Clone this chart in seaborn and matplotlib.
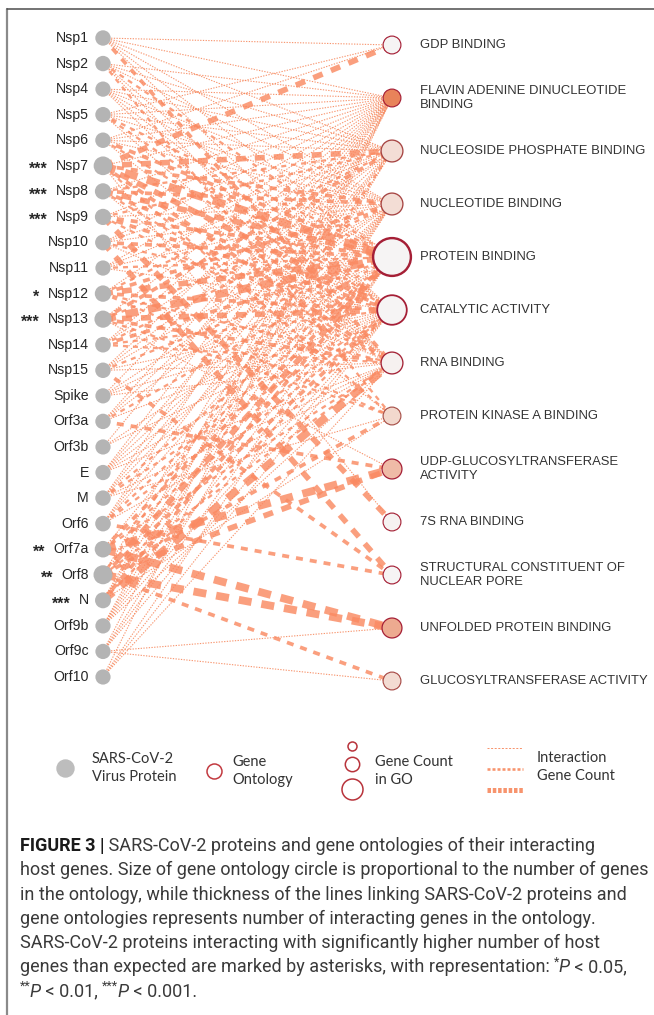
import matplotlib
matplotlib.use("Agg")
import matplotlib.pyplot as plt
from matplotlib.colors import LinearSegmentedColormap, to_hex
import numpy as np
import pandas as pd
import seaborn as sns

sns.set_style("white")
plt.rcParams["font.family"] = ["Liberation Sans", "DejaVu Sans"]
plt.rcParams["lines.scale_dashes"] = False

W, H = 654, 1015
PT = 72 / 100  # points per pixel

# ---------------- data ----------------
proteins = ["Nsp1", "Nsp2", "Nsp4", "Nsp5", "Nsp6", "Nsp7", "Nsp8", "Nsp9",
            "Nsp10", "Nsp11", "Nsp12", "Nsp13", "Nsp14", "Nsp15", "Spike",
            "Orf3a", "Orf3b", "E", "M", "Orf6", "Orf7a", "Orf8", "N",
            "Orf9b", "Orf9c", "Orf10"]
asterisks = ["", "", "", "", "", "***", "***", "***", "", "", "*", "***", "",
             "", "", "", "", "", "", "", "**", "**", "***", "", "", ""]

go_keys = ["GDP", "FAD", "NSP", "NUC", "PRO", "CAT", "RNA", "PKA", "UDP",
           "7S", "NPC", "UNF", "GLC"]
go_terms = ["GDP BINDING", "FLAVIN ADENINE DINUCLEOTIDE\nBINDING",
            "NUCLEOSIDE PHOSPHATE BINDING", "NUCLEOTIDE BINDING",
            "PROTEIN BINDING", "CATALYTIC ACTIVITY", "RNA BINDING",
            "PROTEIN KINASE A BINDING", "UDP-GLUCOSYLTRANSFERASE\nACTIVITY",
            "7S RNA BINDING", "STRUCTURAL CONSTITUENT OF\nNUCLEAR PORE",
            "UNFOLDED PROTEIN BINDING", "GLUCOSYLTRANSFERASE ACTIVITY"]
go_gene_count = [8, 8, 12, 12, 36, 22, 12, 8, 10, 8, 8, 10, 8]
go_shade = [0.0, 1.0, 0.2, 0.2, 0.0, 0.0, 0.03, 0.25, 0.5, 0.02, 0.0, 0.65, 0.22]

# interacting gene count per protein -> ontology
links = {
    "Nsp1": {"GDP": 1, "FAD": 1, "NSP": 1, "NUC": 1, "PRO": 1, "CAT": 1, "RNA": 3},
    "Nsp2": {"FAD": 1, "NSP": 1, "NUC": 1, "PRO": 2, "CAT": 1, "RNA": 1, "PKA": 2},
    "Nsp4": {"FAD": 1, "NSP": 1, "NUC": 1, "PRO": 1, "CAT": 1, "RNA": 1},
    "Nsp5": {"GDP": 1, "FAD": 1, "NSP": 1, "NUC": 1, "PRO": 2, "CAT": 2, "RNA": 1},
    "Nsp6": {"GDP": 1, "FAD": 1, "NSP": 1, "NUC": 1, "PRO": 3, "CAT": 2, "RNA": 1},
    "Nsp7": {"GDP": 4, "FAD": 1, "NSP": 4, "NUC": 3, "PRO": 5, "CAT": 4, "RNA": 3,
             "PKA": 2, "7S": 1},
    "Nsp8": {"FAD": 1, "NSP": 2, "NUC": 3, "PRO": 4, "CAT": 3, "RNA": 2, "PKA": 1},
    "Nsp9": {"FAD": 1, "NSP": 2, "NUC": 1, "PRO": 3, "CAT": 3, "RNA": 2, "7S": 4},
    "Nsp10": {"FAD": 1, "NSP": 1, "NUC": 1, "PRO": 3, "CAT": 2, "RNA": 1, "NPC": 4},
    "Nsp11": {"FAD": 1, "NSP": 1, "NUC": 1, "PRO": 2, "CAT": 1},
    "Nsp12": {"FAD": 1, "NSP": 2, "NUC": 3, "PRO": 4, "CAT": 3, "RNA": 2, "PKA": 2},
    "Nsp13": {"FAD": 1, "NSP": 3, "NUC": 2, "PRO": 5, "CAT": 4, "RNA": 3, "PKA": 2,
              "UDP": 1},
    "Nsp14": {"FAD": 1, "NSP": 1, "NUC": 2, "PRO": 3, "CAT": 2, "RNA": 2},
    "Nsp15": {"FAD": 1, "NSP": 1, "NUC": 1, "PRO": 2, "CAT": 1, "RNA": 1, "NPC": 3},
    "Spike": {"FAD": 1, "NUC": 1, "PRO": 1, "CAT": 1, "RNA": 1},
    "Orf3a": {"FAD": 1, "NSP": 1, "NUC": 1, "PRO": 2, "CAT": 1, "UDP": 3},
    "Orf3b": {"FAD": 1, "PRO": 1, "CAT": 1},
    "E": {"FAD": 1, "NSP": 1, "NUC": 1, "PRO": 1, "CAT": 1, "RNA": 1},
    "M": {"FAD": 1, "NSP": 1, "NUC": 1, "PRO": 2, "CAT": 2, "RNA": 1, "PKA": 1},
    "Orf6": {"FAD": 1, "NSP": 1, "NUC": 1, "PRO": 2, "CAT": 2, "RNA": 1, "NPC": 3},
    "Orf7a": {"NUC": 1, "PRO": 3, "CAT": 2, "RNA": 2, "UDP": 5, "UNF": 5},
    "Orf8": {"FAD": 1, "NSP": 2, "NUC": 1, "PRO": 4, "CAT": 3, "RNA": 2, "PKA": 3,
             "UDP": 4, "UNF": 5, "GLC": 3},
    "N": {"FAD": 1, "NSP": 1, "NUC": 1, "PRO": 3, "CAT": 2, "RNA": 5, "PKA": 1},
    "Orf9b": {"FAD": 1, "NSP": 1, "NUC": 1, "PRO": 1, "CAT": 1, "RNA": 1},
    "Orf9c": {"FAD": 1, "NUC": 1, "PRO": 1, "CAT": 1, "UNF": 1, "GLC": 1},
    "Orf10": {"FAD": 1, "PRO": 1, "CAT": 1, "RNA": 1},
}

# caption: each line is a list of (text, style) pieces
caption = [
    [("FIGURE 3 |", "bold"),
     (" SARS-CoV-2 proteins and gene ontologies of their interacting", "")],
    [("host genes. Size of gene ontology circle is proportional to the number of genes", "")],
    [("in the ontology, while thickness of the lines linking SARS-CoV-2 proteins and", "")],
    [("gene ontologies represents number of interacting genes in the ontology.", "")],
    [("SARS-CoV-2 proteins interacting with significantly higher number of host", "")],
    [("genes than expected are marked by asterisks, with representation: ", ""),
     ("*", "sup"), ("P", "italic"), (" < 0.05,", "")],
    [("**", "sup"), ("P", "italic"), (" < 0.01, ", ""), ("***", "sup"),
     ("P", "italic"), (" < 0.001.", "")],
]

# ---------------- layout ----------------
prot_x, go_x = 103, 392
prot_y = np.linspace(38, 677, len(proteins))
go_y = np.linspace(45, 681, len(go_terms))

prot_df = pd.DataFrame({"name": proteins, "x": prot_x, "y": prot_y})
prot_df["total"] = [sum(links[p].values()) for p in proteins]
t = prot_df["total"]
prot_df["r"] = 7.6 + 1.9 * ((t - t.min()) / (t.max() - t.min())) ** 2
prot_df["s"] = (2 * prot_df["r"] * PT) ** 2

fill_cmap = LinearSegmentedColormap.from_list("go", ["#f6f4f4", "#e8835a"])
edge_cmap = LinearSegmentedColormap.from_list("goe", ["#a51f36", "#a8604e"])
go_df = pd.DataFrame({"term": go_terms, "x": go_x, "y": go_y,
                      "count": go_gene_count, "shade": go_shade})
go_df["r"] = 3.15 * np.sqrt(go_df["count"])
go_df["s"] = (2 * go_df["r"] * PT) ** 2
go_df["lw"] = (0.8 + 0.045 * go_df["count"]) * PT
go_palette = {tm: to_hex(fill_cmap(v)) for tm, v in zip(go_terms, go_shade)}
go_edges = [to_hex(edge_cmap(min(1, v * 3))) for v in go_shade]

rows = []
for p, d in links.items():
    for k, w in d.items():
        rows.append((p, k, w))
edges = pd.DataFrame(rows, columns=["protein", "go", "weight"])
edges["y0"] = edges["protein"].map(dict(zip(proteins, prot_y)))
edges["y1"] = edges["go"].map(dict(zip(go_keys, go_y)))
edges = edges.sort_values("weight", kind="stable")

width_px = {1: 1.1, 2: 2.3, 3: 3.7, 4: 5.6, 5: 7.8}
dash_px = {1: (1.3, 1.4), 2: (5, 5), 3: (7, 7), 4: (10, 9), 5: (13, 10)}

# ---------------- figure ----------------
fig = plt.figure(figsize=(W / 100, H / 100), dpi=100)
ax = fig.add_axes([0, 0, 1, 1])

# frame
ax.plot([7, 7], [9, H], color="#8a8a8a", lw=1.6, clip_on=False)
ax.plot([7, W], [9, 9], color="#4d4d4d", lw=1.1, clip_on=False)

for _, e in edges.iterrows():
    w = e["weight"]
    on, off = dash_px[w]
    ax.plot([prot_x, go_x], [e["y0"], e["y1"]],
            color="#f7895e" if w == 1 else "#fa8a62",
            alpha=0.9 if w == 1 else 0.82,
            lw=width_px[w] * PT, dashes=(on * PT, off * PT), zorder=2)

sns.scatterplot(data=prot_df, x="x", y="y", s=prot_df["s"], color="#b4b4b4",
                edgecolor="none", linewidth=0, ax=ax, zorder=5, legend=False)
sns.scatterplot(data=go_df, x="x", y="y", hue="term", palette=go_palette,
                s=go_df["s"], edgecolor=go_edges, linewidth=go_df["lw"],
                ax=ax, zorder=6, legend=False)
ax.set_xlim(0, W)
ax.set_ylim(H, 0)
ax.axis("off")

for name, y, star in zip(proteins, prot_y, asterisks):
    lab = ax.text(89, y, name, ha="right", va="center", fontsize=10.2,
                  color="#262626")
    if star:
        ax.annotate(star, xy=(0, 0.5), xycoords=lab, xytext=(-6, -2.5),
                    textcoords="offset points", ha="right", va="center",
                    fontsize=11.5, fontweight="bold", color="#262626")

for term, y in zip(go_terms, go_y):
    ax.text(420, y, term, ha="left", va="center", fontsize=9.35,
            color="#333333", linespacing=1.2)

# ---------------- legend ----------------
leg_font = ["Lato", "DejaVu Sans"]
ax.scatter([65], [768], s=(2 * 8.5 * PT) ** 2, color="#bdbdbd", zorder=5)
ax.text(92, 768, "SARS-CoV-2\nVirus Protein", ha="left", va="center",
        fontsize=10.5, family=leg_font, color="#333333", linespacing=1.35)
ax.scatter([214], [771], s=(2 * 7.5 * PT) ** 2, facecolor="white",
           edgecolor="#c23a40", linewidth=1.1, zorder=5)
ax.text(232, 771, "Gene\nOntology", ha="left", va="center",
        fontsize=10.5, family=leg_font, color="#333333", linespacing=1.35)
for yy, rr in zip([746, 764, 789], [4.5, 7.2, 10.5]):
    ax.scatter([352], [yy], s=(2 * rr * PT) ** 2, facecolor="white",
               edgecolor="#b8333b", linewidth=1.1, zorder=5)
ax.text(375, 771, "Gene Count\nin GO", ha="left", va="center",
        fontsize=10.5, family=leg_font, color="#333333", linespacing=1.35)
for yy, lw, ds in zip([748, 769, 790], [1.0, 2.6, 5.0],
                      [(2, 1.6), (3, 2), (3.5, 1.8)]):
    ax.plot([487, 523], [yy, yy], color="#f7895e", alpha=0.9, lw=lw * PT,
            dashes=(ds[0] * PT, ds[1] * PT))
ax.text(537, 767, "Interaction\nGene Count", ha="left", va="center",
        fontsize=10.5, family=leg_font, color="#333333", linespacing=1.35)

# ---------------- caption ----------------
cap_family = ["Roboto", "DejaVu Sans"]
fig.canvas.draw()
renderer = fig.canvas.get_renderer()
probe = ax.text(20, 870, caption[1][0][0], fontsize=10, family=cap_family)
wpx = probe.get_window_extent(renderer).width
probe.remove()
cap_size = 10 * 630 / wpx


def put_line(y, pieces):
    prev = None
    for txt, style in pieces:
        kw = dict(family=cap_family, fontsize=cap_size, color="#3a3a3a",
                  va="baseline", ha="left")
        dy, dx = 0, 0
        if style == "bold":
            kw.update(fontweight="bold", color="#1a1a1a")
        elif style == "italic":
            kw.update(fontstyle="italic")
            dx = -0.6
        elif style == "sup":
            kw.update(fontsize=cap_size * 0.7)
            dy = cap_size * 0.38
        if prev is None:
            prev = ax.annotate(txt, xy=(20, y), xycoords="data",
                               xytext=(dx, dy), textcoords="offset points", **kw)
        else:
            prev = ax.annotate(txt, xy=(1, y), xycoords=(prev, "data"),
                               xytext=(dx, dy), textcoords="offset points", **kw)


for i, pieces in enumerate(caption):
    put_line(851 + 24.3 * i, pieces)

fig.savefig("out.png", dpi=100)
